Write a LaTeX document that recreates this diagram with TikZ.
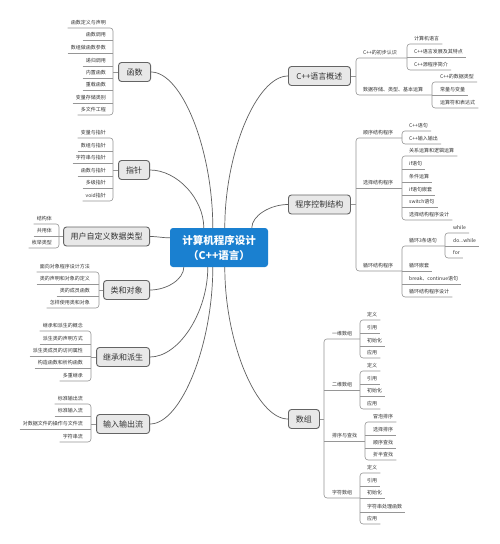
\documentclass[tikz,border=0pt]{standalone}
\usepackage{fontspec}
\setmainfont{Noto Sans CJK SC}
\usetikzlibrary{calc}
\definecolor{cblue}{RGB}{26,128,208}
\definecolor{mfill}{RGB}{232,232,232}
\definecolor{mdraw}{RGB}{100,100,100}
\definecolor{txt}{RGB}{51,51,51}
\definecolor{brc}{RGB}{150,150,150}
\definecolor{crv}{RGB}{95,95,95}
\newcommand\lfnt{\fontsize{5}{6}\selectfont}
\begin{document}
\begin{tikzpicture}[x=1pt,y=-1pt,
  mainbox/.style={draw=mdraw, fill=mfill, rounded corners=3pt, line width=0.9pt, font=\fontsize{8}{10}\selectfont, text=txt, minimum height=19pt, inner xsep=2pt, inner ysep=0pt},
  leafL/.style={anchor=east, font=\lfnt, text=txt, inner xsep=3pt, inner ysep=1.5pt, text height=5pt, text depth=1.5pt},
  leafR/.style={leafL, anchor=west},
  br/.style={draw=brc, line width=0.6pt, rounded corners=3pt},
  crvline/.style={draw=crv, line width=0.7pt},
]
\useasboundingbox[fill=white] (0,0) rectangle (500,544);

% centre
\node[fill=cblue, rounded corners=3pt, minimum width=98pt, minimum height=39pt, align=center, text=white, font=\fontsize{10.5}{15}\selectfont\bfseries] (c) at (219,247.5) {计算机程序设计\\（C++语言）};

% ---------- left: 函数
\node[mainbox, minimum width=32pt, anchor=east] (m1) at (151,72) {函数};
\coordinate (b1) at (113,72);
\foreach \t/\y [count=\i] in {函数定义与声明/23,函数调用/35,数组做函数参数/48,递归调用/61,内置函数/73,重载函数/85,变量存储类别/98,多文件工程/110}
  \node[leafL] (fa\i) at (109,\y) {\t};
\draw[br] (fa1.south west) -- (fa1.south -| b1) -- (fa8.south -| b1) -- (fa8.south west);
\foreach \i in {2,...,7} \draw[br] (fa\i.south west) -- (fa\i.south -| b1);
\draw[br] (m1.west) -- (b1);

% ---------- left: 指针
\node[mainbox, minimum width=31pt, anchor=east] (m2) at (150,170) {指针};
\coordinate (b2) at (113,170);
\foreach \t/\y [count=\i] in {变量与指针/133,数组与指针/146,字符串与指针/158,函数与指针/171,多级指针/183,void指针/196}
  \node[leafL] (fb\i) at (109,\y) {\t};
\draw[br] (fb1.south west) -- (fb1.south -| b2) -- (fb6.south -| b2) -- (fb6.south west);
\foreach \i in {2,...,5} \draw[br] (fb\i.south west) -- (fb\i.south -| b2);
\draw[br] (m2.west) -- (b2);

% ---------- left: 用户自定义数据类型
\node[mainbox, minimum width=86pt, anchor=east] (m3) at (150,236.5) {用户自定义数据类型};
\coordinate (b3) at (59,236.5);
\foreach \t/\y [count=\i] in {结构体/219,共用体/231,枚举类型/243}
  \node[leafL] (fc\i) at (55,\y) {\t};
\draw[br] (fc1.south west) -- (fc1.south -| b3) -- (fc3.south -| b3) -- (fc3.south west);
\draw[br] (fc2.south west) -- (fc2.south -| b3);
\draw[br] (m3.west) -- (b3);

% ---------- left: 类和对象
\node[mainbox, minimum width=46pt, anchor=east] (m4) at (150,290) {类和对象};
\coordinate (b4) at (99,290);
\foreach \t/\y [count=\i] in {面向对象程序设计方法/267,类的声明和对象的定义/279,类的成员函数/291,怎样使用类和对象/303}
  \node[leafL] (fd\i) at (93,\y) {\t};
\draw[br] (fd1.south west) -- (fd1.south -| b4) -- (fd4.south -| b4) -- (fd4.south west);
\foreach \i in {2,3} \draw[br] (fd\i.south west) -- (fd\i.south -| b4);
\draw[br] (m4.west) -- (b4);

% ---------- left: 继承和派生
\node[mainbox, minimum width=53pt, anchor=east] (m5) at (150,357) {继承和派生};
\coordinate (b5) at (91,357);
\foreach \t/\y [count=\i] in {继承和派生的概念/326,派生类的声明方式/339,派生类成员的访问属性/351,构造函数和析构函数/363,多重继承/376}
  \node[leafL] (fe\i) at (86,\y) {\t};
\draw[br] (fe1.south west) -- (fe1.south -| b5) -- (fe5.south -| b5) -- (fe5.south west);
\foreach \i in {2,3,4} \draw[br] (fe\i.south west) -- (fe\i.south -| b5);
\draw[br] (m5.west) -- (b5);

% ---------- left: 输入输出流
\node[mainbox, minimum width=53pt, anchor=east] (m6) at (150,424) {输入输出流};
\coordinate (b6) at (91,424);
\foreach \t/\y [count=\i] in {标准输出流/399,标准输入流/411,对数据文件的操作与文件流/424,字符串流/437}
  \node[leafL] (ff\i) at (86,\y) {\t};
\draw[br] (ff1.south west) -- (ff1.south -| b6) -- (ff4.south -| b6) -- (ff4.south west);
\foreach \i in {2,3} \draw[br] (ff\i.south west) -- (ff\i.south -| b6);
\draw[br] (m6.west) -- (b6);

% ---------- right: C++语言概述
\node[mainbox, minimum width=62pt, anchor=west] (m7) at (288,76) {C++语言概述};
\coordinate (B7) at (356,76);
\node[leafR] (s1) at (360,53) {C++的初步认识};
\node[leafR] (s2) at (360,90) {数据存储、类型、基本运算};
\coordinate (c1) at (407,0);
\coordinate (c2) at (432,0);
\draw[br] (s1.south -| c1) -- (s1.south -| B7) -- (s2.south -| B7) -- (s2.south -| c2);
\draw[br] (m7.east) -- (B7);
\foreach \t/\y [count=\i] in {计算机语言/39,C++语言发展及其特点/52,C++源程序简介/65}
  \node[leafR] (pa\i) at (411,\y) {\t};
\draw[br] (pa1.south east) -- (pa1.south -| c1) -- (pa3.south -| c1) -- (pa3.south east);
\draw[br] (pa2.south -| c1) -- (pa2.south east);
\foreach \t/\y [count=\i] in {C++的数据类型/77,常量与变量/90,运算符和表达式/103}
  \node[leafR] (pb\i) at (437,\y) {\t};
\draw[br] (pb1.south east) -- (pb1.south -| c2) -- (pb3.south -| c2) -- (pb3.south east);
\draw[br] (pb2.south -| c2) -- (pb2.south east);

% ---------- right: 程序控制结构
\node[mainbox, minimum width=62pt, anchor=west] (m8) at (288,204.5) {程序控制结构};
\coordinate (B8) at (356,204.5);
\node[leafR] (s3) at (360,133) {顺序结构程序};
\node[leafR] (s4) at (360,183) {选择结构程序};
\node[leafR] (s5) at (360,266) {循环结构程序};
\coordinate (c3) at (402,0);
\coordinate (c4) at (445,0);
\draw[br] (s3.south -| c3) -- (s3.south -| B8) -- (s5.south -| B8) -- (s5.south -| c3);
\draw[br] (s4.south -| B8) -- (s4.south -| c3);
\draw[br] (m8.east) -- (B8);
\foreach \t/\y [count=\i] in {C++语句/126,C++输入输出/139}
  \node[leafR] (pc\i) at (406,\y) {\t};
\draw[br] (pc1.south east) -- (pc1.south -| c3) -- (pc2.south -| c3) -- (pc2.south east);
\foreach \t/\y [count=\i] in {关系运算和逻辑运算/151,if语句/164,条件运算/177,if语句嵌套/190,switch语句/202,选择结构程序设计/215}
  \node[leafR] (pd\i) at (406,\y) {\t};
\draw[br] (pd1.south east) -- (pd1.south -| c3) -- (pd6.south -| c3) -- (pd6.south east);
\foreach \i in {2,...,5} \draw[br] (pd\i.south -| c3) -- (pd\i.south east);
\foreach \t/\y [count=\i] in {循环3条语句/241,循环嵌套/266,break、continue语句/279,循环结构程序设计/292}
  \node[leafR] (pe\i) at (406,\y) {\t};
\draw[br] (pe1.south -| c4) -- (pe1.south -| c3) -- (pe4.south -| c3) -- (pe4.south east);
\foreach \i in {2,3} \draw[br] (pe\i.south -| c3) -- (pe\i.south east);
\node[leafR] (pf1) at (450,228) {while};
\node[leafR] (pf2) at (450,241) {do...while};
\node[leafR] (pf3) at (450,253) {for};
\draw[br] (pf1.south east) -- (pf1.south -| c4) -- (pf3.south -| c4) -- (pf3.south east);
\draw[br] (pf2.south -| c4) -- (pf2.south east);

% ---------- right: 数组
\node[mainbox, minimum width=31pt, anchor=west] (m9) at (288,419) {数组};
\coordinate (B9) at (324,419);
\node[leafR] (s7) at (329,334) {一维数组};
\node[leafR] (s8) at (329,385) {二维数组};
\node[leafR] (s9) at (329,436) {排序与查找};
\node[leafR] (s10) at (329,493) {字符数组};
\coordinate (c5) at (360,0);
\coordinate (c6) at (365,0);
\draw[br] (s7.south -| c5) -- (s7.south -| B9) -- (s10.south -| B9) -- (s10.south -| c5);
\draw[br] (s8.south -| B9) -- (s8.south -| c5);
\draw[br] (s9.south -| B9) -- (s9.south -| c6);
\draw[br] (m9.east) -- (B9);
\foreach \t/\y [count=\i] in {定义/315,引用/328,初始化/341,应用/353}
  \node[leafR] (pg\i) at (364,\y) {\t};
\draw[br] (pg1.south east) -- (pg1.south -| c5) -- (pg4.south -| c5) -- (pg4.south east);
\foreach \i in {2,3} \draw[br] (pg\i.south -| c5) -- (pg\i.south east);
\foreach \t/\y [count=\i] in {定义/366,引用/379,初始化/391,应用/404}
  \node[leafR] (ph\i) at (364,\y) {\t};
\draw[br] (ph1.south east) -- (ph1.south -| c5) -- (ph4.south -| c5) -- (ph4.south east);
\foreach \i in {2,3} \draw[br] (ph\i.south -| c5) -- (ph\i.south east);
\foreach \t/\y [count=\i] in {冒泡排序/417,选择排序/430,顺序查找/443,折半查找/455}
  \node[leafR] (pi\i) at (370,\y) {\t};
\draw[br] (pi1.south east) -- (pi1.south -| c6) -- (pi4.south -| c6) -- (pi4.south east);
\foreach \i in {2,3} \draw[br] (pi\i.south -| c6) -- (pi\i.south east);
\foreach \t/\y [count=\i] in {定义/468,引用/481,初始化/493,字符串处理函数/507,应用/519}
  \node[leafR] (pj\i) at (364,\y) {\t};
\draw[br] (pj1.south east) -- (pj1.south -| c5) -- (pj5.south -| c5) -- (pj5.south east);
\foreach \i in {2,3,4} \draw[br] (pj\i.south -| c5) -- (pj\i.south east);

% ---------- curves from centre
\draw[crvline] (m1.east) .. controls +(31,0) and +(0,-78) .. ($(c.north west)+(43,0)$);
\draw[crvline] (m2.east) .. controls +(27,0) and +(0,-29) .. ($(c.north west)+(34,0)$);
\draw[crvline] (m7.west) .. controls +(-31,0) and +(0,-76) .. ($(c.north west)+(55,0)$);
\draw[crvline] (m8.west) .. controls +(-18,0) and +(0,-12) .. ($(c.north west)+(82,0)$);
\draw[crvline] (m3.east) .. controls +(8,0) and +(-8,0) .. ($(c.north west)+(0,10)$);
\draw[crvline] (m4.east) .. controls +(17,0) and +(0,12) .. ($(c.south west)+(14,0)$);
\draw[crvline] (m5.east) .. controls +(29,0) and +(0,45) .. ($(c.south west)+(38,0)$);
\draw[crvline] (m6.east) .. controls +(31,0) and +(0,78) .. ($(c.south west)+(43,0)$);
\draw[crvline] (m9.west) .. controls +(-31,0) and +(0,76) .. ($(c.south west)+(55,0)$);
\end{tikzpicture}
\end{document}
